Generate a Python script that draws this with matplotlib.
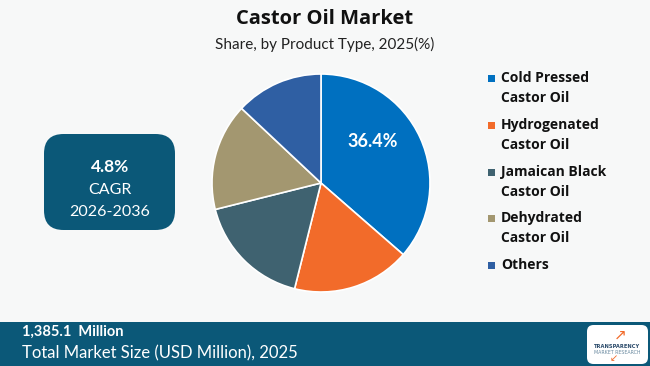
import matplotlib
matplotlib.use("Agg")
import matplotlib.pyplot as plt
from matplotlib.patches import FancyBboxPatch, Rectangle

categories = ["Cold Pressed\nCastor Oil", "Hydrogenated\nCastor Oil", "Jamaican Black\nCastor Oil",
              "Dehydrated\nCastor Oil", "Others"]
shares = [36.4, 17.5, 17.2, 15.9, 13.0]
colors = ["#0070C0", "#F26B2A", "#3F6270", "#A39770", "#2F5FA3"]
label_text = "36.4%"

title = "Castor Oil Market"
subtitle = "Share, by Product Type, 2025(%)"
cagr_value = "4.8%"
cagr_label = "CAGR"
cagr_period = "2026-2036"
market_value = "1,385.1  Million"
market_label = "Total Market Size (USD Million), 2025"

W, H = 650, 366
bg = "#F7F8F8"
fig = plt.figure(figsize=(6.5, 3.66), dpi=100, facecolor=bg)

def fx(x): return x / W
def fy(y): return 1 - y / H

# pie
cx, cy, r = 321, 183, 109
ax = fig.add_axes([fx(cx - r), fy(cy + r), 2 * r / W, 2 * r / H])
ax.set_facecolor(bg)
wedges, _ = ax.pie(shares, colors=colors, startangle=90, counterclock=False,
                   wedgeprops=dict(edgecolor="white", linewidth=1.2))
ax.set_aspect("auto")
ax.set_xlim(-1, 1); ax.set_ylim(-1, 1)
ax.axis("off")
ax.text(0.47, 0.38, label_text, color="white", fontsize=13, fontweight="bold",
        ha="center", va="center", family="Lato")

# titles
fig.text(0.5, fy(19), title, ha="center", va="center", fontsize=14.5, fontweight="bold",
         family="Open Sans", color="#111111")
fig.text(0.5, fy(44), subtitle, ha="center", va="center", fontsize=11, family="Lato",
         color="#222222")

# legend
ys = [88, 135, 182, 228, 265]
for lab, c, y in zip(categories, colors, ys):
    yt = y - 10 if "\n" in lab else y
    fig.patches.append(Rectangle((fx(488), fy(yt + 4)), 7 / W, 7 / H, transform=fig.transFigure,
                                 facecolor=c, edgecolor="none"))
    for i, ln in enumerate(lab.split("\n")):
        fig.text(fx(501), fy(yt + i * 20), ln, ha="left", va="center", fontsize=10,
                 fontweight="bold", family="Open Sans", color="#111111")

# CAGR box
box_col = "#0B5878"
fig.patches.append(FancyBboxPatch((fx(44), fy(230)), (175 - 44) / W, (230 - 134) / H,
                                  boxstyle="round,pad=0,rounding_size=0.03",
                                  transform=fig.transFigure, facecolor=box_col, edgecolor="none",
                                  mutation_aspect=W / H))
fig.text(fx(110), fy(167), cagr_value, ha="center", va="center", fontsize=12.5, fontweight="bold",
         color="white", family="Lato")
fig.text(fx(110), fy(190), cagr_label, ha="center", va="center", fontsize=11.5, color="white",
         family="Lato")
fig.text(fx(110), fy(212), cagr_period, ha="center", va="center", fontsize=11.5, color="white",
         family="Lato")

# bottom band
band_col = "#0B5878"
fig.patches.append(Rectangle((0, 0), 1, (H - 322) / H, transform=fig.transFigure,
                             facecolor=band_col, edgecolor="none"))
fig.text(fx(22), fy(332), market_value, ha="left", va="center", fontsize=10.5, fontweight="bold",
         color="white", family="Lato")
fig.text(fx(22), fy(353), market_label, ha="left", va="center", fontsize=12, color="white",
         family="Lato")

# logo
fig.patches.append(FancyBboxPatch((fx(587), fy(364)), 61 / W, 39 / H,
                                  boxstyle="round,pad=0,rounding_size=0.01",
                                  transform=fig.transFigure, facecolor="white", edgecolor="none",
                                  mutation_aspect=W / H))
fig.text(fx(617.5), fy(347), "TRANSPARENCY", ha="center", va="center", fontsize=3.7,
         fontweight="bold", color="#2A4A6A", family="DejaVu Sans")
fig.text(fx(617.5), fy(352), "MARKET RESEARCH", ha="center", va="center", fontsize=3.4,
         color="#6A8AA0", family="DejaVu Sans")
fig.text(fx(620), fy(335), "\u2197", ha="center", va="center", fontsize=11, color="#F26B2A",
         family="DejaVu Sans")
fig.text(fx(614), fy(358), "\u2199", ha="center", va="center", fontsize=7, color="#F26B2A",
         family="DejaVu Sans")

fig.savefig("out.png", dpi=100, facecolor=bg)
